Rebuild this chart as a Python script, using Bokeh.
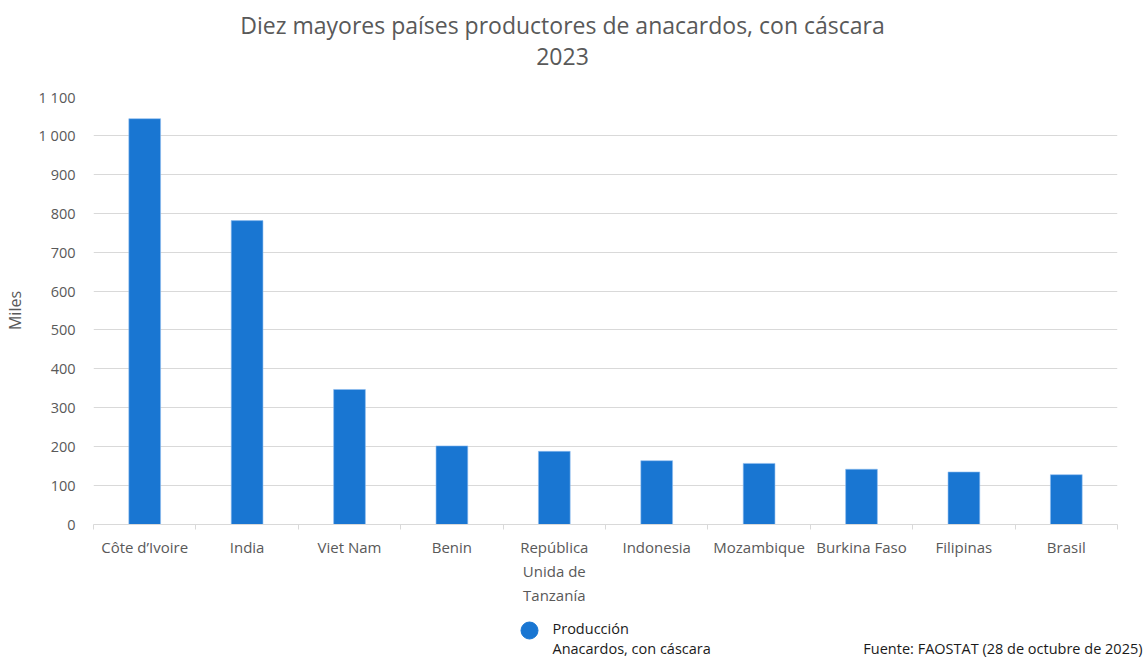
from bokeh.plotting import figure
from bokeh.layouts import column
from bokeh.models import ColumnDataSource, FixedTicker, Range1d
from bokeh.core.properties import value
from bokeh.embed import file_html
from bokeh.resources import INLINE

countries = ["Côte d’Ivoire", "India", "Viet Nam", "Benin", "República\nUnida de\nTanzanía",
             "Indonesia", "Mozambique", "Burkina Faso", "Filipinas", "Brasil"]
production_thousands = [1043, 781, 347, 202, 188, 164, 157, 142, 135, 128]
y_ticks = [0, 100, 200, 300, 400, 500, 600, 700, 800, 900, 1000, 1100]
y_tick_labels = ["0", "100", "200", "300", "400", "500", "600", "700", "800", "900", "1 000", "1 100"]

title_line1 = "Diez mayores países productores de anacardos, con cáscara"
title_line2 = "2023"
legend_line1 = "Producción"
legend_line2 = "Anacardos, con cáscara"
source_note = "Fuente: FAOSTAT (28 de octubre de 2025)"

FONT = "Open Sans"
GREY = "#595959"
BLUE = "#1976d2"
W = 1146
LEFT, RIGHT = 93, 29          # frame borders shared by all three figures
FX0, FX1 = LEFT, W - RIGHT    # frame extent in canvas pixels


def blank(height):
    f = figure(width=W, height=height, output_backend="svg", toolbar_location=None,
               x_range=Range1d(FX0, FX1), y_range=Range1d(height, 0),
               x_axis_location=None, y_axis_location=None,
               min_border_left=LEFT, min_border_right=RIGHT,
               min_border_top=0, min_border_bottom=0)
    f.outline_line_color = None
    f.grid.visible = False
    return f


# ---- header ----
HEADER_H = 87
header = blank(HEADER_H)
header.text(x=[562, 562], y=[24, 56], text=[title_line1, title_line2],
            text_font=value(FONT), text_font_size="23px", text_color=GREY,
            text_align="center", text_baseline="middle")

# ---- main chart ----
n = len(countries)
centers = [i + 0.5 for i in range(n)]
bounds = [float(i) for i in range(n + 1)]
src = ColumnDataSource(dict(x=centers, top=production_thousands, name=countries))

p = figure(width=W, height=527, output_backend="svg", toolbar_location=None,
           x_range=Range1d(0, n), y_range=Range1d(0, 1100),
           min_border_left=LEFT, min_border_right=RIGHT, min_border_top=9, min_border_bottom=90)
p.outline_line_color = None

p.vbar(x="x", top="top", width=0.31, source=src, fill_color=BLUE,
       line_color="#8fbdf0", line_width=0.6)

p.xaxis.ticker = FixedTicker(ticks=centers, minor_ticks=bounds)
p.xaxis.major_label_overrides = {c: name for c, name in zip(centers, countries)}
p.xaxis.major_tick_line_color = None
p.xaxis.major_tick_out = 0
p.xaxis.minor_tick_line_color = "#d9d9d9"
p.xaxis.minor_tick_in = 0
p.xaxis.minor_tick_out = 5
p.xaxis.axis_line_color = "#d9d9d9"
p.xaxis.major_label_text_font = FONT
p.xaxis.major_label_text_font_size = "15px"
p.xaxis.major_label_text_color = GREY
p.xaxis.major_label_standoff = 7

p.yaxis.ticker = FixedTicker(ticks=y_ticks)
p.yaxis.major_label_overrides = {t: s for t, s in zip(y_ticks, y_tick_labels)}
p.yaxis.axis_line_color = None
p.yaxis.major_tick_line_color = None
p.yaxis.major_tick_out = 0
p.yaxis.minor_tick_line_color = None
p.yaxis.major_label_text_font = FONT
p.yaxis.major_label_text_font_size = "14.5px"
p.yaxis.major_label_text_color = GREY
p.yaxis.major_label_standoff = 18
p.yaxis.axis_label = "Miles"
p.yaxis.axis_label_text_font = FONT
p.yaxis.axis_label_text_font_size = "16px"
p.yaxis.axis_label_text_font_style = "normal"
p.yaxis.axis_label_text_color = GREY
p.yaxis.axis_label_standoff = 10

p.xgrid.grid_line_color = None
p.ygrid.grid_line_color = "#d9d9d9"

# ---- footer ----
FOOTER_H = 44
footer = blank(FOOTER_H)
footer.scatter(x=[529], y=[16], size=17, marker="circle", fill_color=BLUE, line_color=BLUE)
footer.text(x=[552, 552], y=[14, 34], text=[legend_line1, legend_line2],
            text_font=value(FONT), text_font_size="14.5px", text_color="#1a1a1a",
            text_align="left", text_baseline="middle")
footer.text(x=[1142], y=[34], text=[source_note], level="overlay",
            text_font=value(FONT), text_font_size="14.5px", text_color="#1a1a1a",
            text_align="right", text_baseline="middle")

layout = column(header, p, footer, spacing=0)
open("out.html", "w").write(file_html(layout, INLINE))
